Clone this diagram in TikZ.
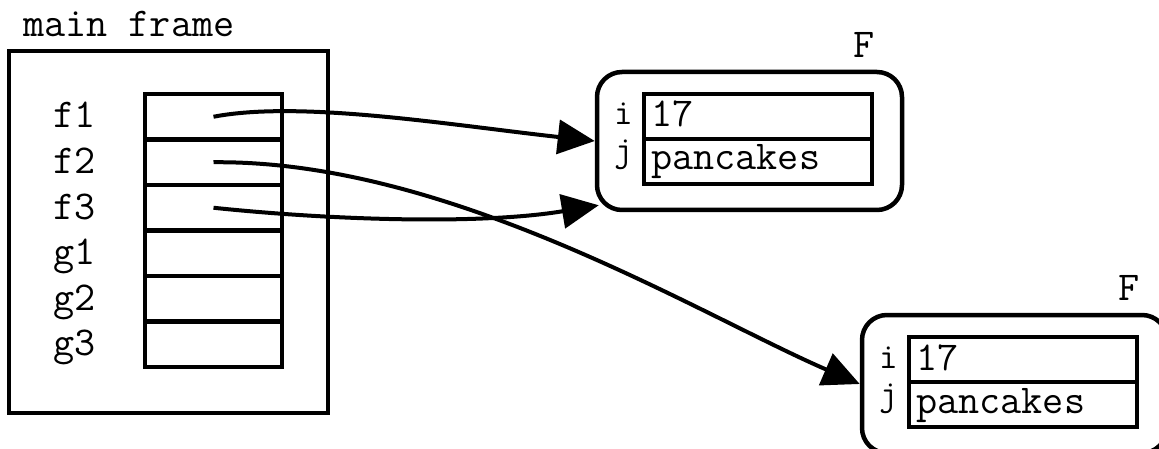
\documentclass[tikz,border=0pt]{standalone}
\usepackage{fontspec}
\usetikzlibrary{arrows.meta}
\begin{document}
\begin{tikzpicture}[x=1pt,y=-1pt,
  txt/.style={inner sep=0pt, font=\ttfamily\fontsize{41}{44}\selectfont},
  small/.style={inner sep=0pt, font=\ttfamily\fontsize{36}{40}\selectfont},
  cell/.style={draw, line width=4.5pt, minimum width=137pt, minimum height=45.5pt, inner sep=0pt},
  fcell/.style={draw, line width=4.5pt, minimum width=228pt, minimum height=45pt, inner sep=0pt},
  fframe/.style={draw, line width=4.5pt, rounded corners=25pt, minimum width=305pt, minimum height=138pt, inner sep=0pt},
  mframe/.style={draw, line width=4.5pt, minimum width=319pt, minimum height=362pt, inner sep=0pt},
  ptr/.style={line width=4pt, -{Triangle[length=37pt,width=34pt]}}
]
\clip (0,0) rectangle (1159,449);
% main frame
\node[mframe] (main) at (168.5,232) {};
\node[txt, anchor=base west] (mainlbl) at (23,37) {main frame};
\foreach \n/\l [count=\k from 0] in {f1/f1,f2/f2,f3/f3,g1/g1,g2/g2,g3/g3}{
  \node[cell] (\n) at (213.5,{116.75+45.5*\k}) {};
  \node[txt, anchor=base west] (\n lbl) at (53,{128+45.5*\k}) {\l};
}
% first F
\node[fframe] (F1) at (749.5,141) {};
\node[fcell] (F1i) at (758,116.5) {};
\node[fcell] (F1j) at (758,161.5) {};
\node[txt, anchor=base west] (F1t) at (853,58) {F};
\node[small, anchor=base west] (F1il) at (614,125) {i};
\node[small, anchor=base west] (F1jl) at (614,162) {j};
\node[txt, anchor=base west] (F1iv) at (651,127) {17};
\node[txt, anchor=base west] (F1jv) at (651,170) {pancakes};
% second F
\node[fframe] (F2) at (1014.5,384) {};
\node[fcell] (F2i) at (1023,359.5) {};
\node[fcell] (F2j) at (1023,404.5) {};
\node[txt, anchor=base west] (F2t) at (1118,300) {F};
\node[small, anchor=base west] (F2il) at (879,368) {i};
\node[small, anchor=base west] (F2jl) at (879,405) {j};
\node[txt, anchor=base west] (F2iv) at (916,370) {17};
\node[txt, anchor=base west] (F2jv) at (916,413) {pancakes};
% pointers
\draw[ptr] (f1.center) .. controls (300,100) and (450,125) .. (F1.west);
\draw[ptr] (f2.center) .. controls (450,160) and (700,315) .. (F2.west);
\draw[ptr] (f3.center) .. controls (330,220) and (480,225) .. ([xshift=4pt,yshift=7pt]F1.south west);
\end{tikzpicture}
\end{document}
